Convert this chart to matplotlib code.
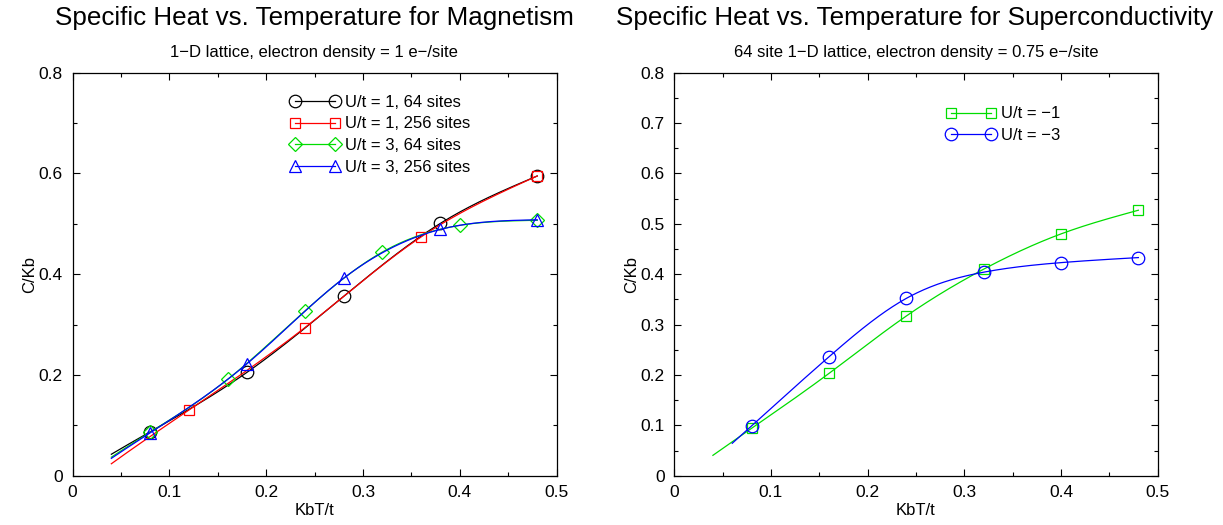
import numpy as np
import matplotlib
matplotlib.use("Agg")
import matplotlib.pyplot as plt
from matplotlib.ticker import MultipleLocator

plt.rcParams['font.family'] = ['Liberation Sans', 'DejaVu Sans']

# ---- magnetism data (left) ----
mag_x_black = [0.08, 0.18, 0.28, 0.38, 0.48]
mag_y_black = [0.087, 0.205, 0.356, 0.501, 0.595]
mag_x_red = [0.12, 0.24, 0.36, 0.48]
mag_y_red = [0.130, 0.294, 0.474, 0.595]
mag_x_green = [0.08, 0.16, 0.24, 0.32, 0.40, 0.48]
mag_y_green = [0.086, 0.191, 0.327, 0.444, 0.497, 0.507]
mag_x_blue = [0.08, 0.18, 0.28, 0.38, 0.48]
mag_y_blue = [0.085, 0.222, 0.392, 0.489, 0.508]
mag_labels = ['U/t = 1, 64 sites', 'U/t = 1, 256 sites',
              'U/t = 3, 64 sites', 'U/t = 3, 256 sites']

# ---- superconductivity data (right) ----
sc_x = [0.08, 0.16, 0.24, 0.32, 0.40, 0.48]
sc_y_green = [0.094, 0.203, 0.317, 0.410, 0.480, 0.527]
sc_y_blue = [0.099, 0.236, 0.352, 0.404, 0.423, 0.433]
sc_labels = ['U/t = \u22121', 'U/t = \u22123']


def spline(x, y, xs):
    """natural cubic spline, evaluated (and extended) at xs"""
    x = np.asarray(x, float); y = np.asarray(y, float)
    n = len(x)
    h = np.diff(x)
    A = np.zeros((n, n)); b = np.zeros(n)
    A[0, 0] = 1; A[-1, -1] = 1
    for i in range(1, n-1):
        A[i, i-1] = h[i-1]
        A[i, i] = 2*(h[i-1]+h[i])
        A[i, i+1] = h[i]
        b[i] = 6*((y[i+1]-y[i])/h[i] - (y[i]-y[i-1])/h[i-1])
    M = np.linalg.solve(A, b)
    idx = np.clip(np.searchsorted(x, xs)-1, 0, n-2)
    x0 = x[idx]; x1 = x[idx+1]; hh = h[idx]
    return (M[idx]*(x1-xs)**3/(6*hh) + M[idx+1]*(xs-x0)**3/(6*hh)
            + (y[idx]/hh - M[idx]*hh/6)*(x1-xs)
            + (y[idx+1]/hh - M[idx+1]*hh/6)*(xs-x0))


def curve(ax, x, y, start, color, marker, ms, label):
    xs = np.linspace(start, x[-1], 300)
    ax.plot(xs, spline(x, y, xs), color=color, lw=0.9)
    ax.plot(x, y, ls='none', marker=marker, ms=ms, mfc='none', mec=color, mew=0.9)
    # legend proxy
    ax.plot([], [], color=color, lw=0.9, marker=marker, ms=ms, mfc='none',
            mec=color, mew=0.9, label=label)


def style(ax, ymajor, yminor):
    ax.set_xlim(0, 0.5)
    ax.set_ylim(0, 0.8)
    ax.xaxis.set_major_locator(MultipleLocator(0.1))
    ax.xaxis.set_minor_locator(MultipleLocator(0.05))
    ax.yaxis.set_major_locator(MultipleLocator(ymajor))
    ax.yaxis.set_minor_locator(MultipleLocator(yminor))
    ax.tick_params(which='both', direction='in', top=True, right=True,
                   labelsize=12.5, width=0.8, pad=7)
    ax.tick_params(which='major', length=5)
    ax.tick_params(which='minor', length=3)
    ax.xaxis.set_major_formatter(plt.FuncFormatter(lambda v, p: '%g' % round(v, 2)))
    ax.yaxis.set_major_formatter(plt.FuncFormatter(lambda v, p: '%g' % round(v, 2)))
    for s in ax.spines.values():
        s.set_linewidth(0.9)
    ax.set_xlabel('KbT/t', fontsize=12, labelpad=2)
    ax.set_ylabel('C/Kb', fontsize=12, labelpad=1)


fig = plt.figure(figsize=(12.23, 5.25), dpi=100)
ax1 = fig.add_axes([0.0594, 0.0939, 0.3957, 0.7676])
ax2 = fig.add_axes([0.5513, 0.0939, 0.3953, 0.7676])

curve(ax1, mag_x_black, mag_y_black, 0.04, 'black', 'o', 9, mag_labels[0])
curve(ax1, mag_x_red, mag_y_red, 0.04, 'red', 's', 7.5, mag_labels[1])
curve(ax1, mag_x_green, mag_y_green, 0.04, '#00dd00', 'D', 7, mag_labels[2])
curve(ax1, mag_x_blue, mag_y_blue, 0.04, 'blue', '^', 9, mag_labels[3])
style(ax1, 0.2, 0.1)
ax1.legend(loc='upper left', bbox_to_anchor=(0.435, 0.962), frameon=False,
           numpoints=2, handlelength=3.0, handletextpad=0.3, labelspacing=0.4,
           fontsize=12, borderaxespad=0)

curve(ax2, sc_x, sc_y_green, 0.04, '#00dd00', 's', 7.5, sc_labels[0])
curve(ax2, sc_x, sc_y_blue, 0.06, 'blue', 'o', 9, sc_labels[1])
style(ax2, 0.1, 0.05)
ax2.legend(loc='upper left', bbox_to_anchor=(0.549, 0.933), frameon=False,
           numpoints=2, handlelength=3.0, handletextpad=0.3, labelspacing=0.4,
           fontsize=12, borderaxespad=0)

fig.text(0.2567, 0.953, 'Specific Heat vs. Temperature for Magnetism',
         ha='center', va='baseline', fontsize=18.7)
fig.text(0.257, 0.891, '1\u2212D lattice, electron density = 1 e\u2212/site',
         ha='center', va='baseline', fontsize=12)
fig.text(0.748, 0.953, 'Specific Heat vs. Temperature for Superconductivity',
         ha='center', va='baseline', fontsize=18.7)
fig.text(0.749, 0.891, '64 site 1\u2212D lattice, electron density = 0.75 e\u2212/site',
         ha='center', va='baseline', fontsize=12)

fig.savefig('out.png', dpi=100)
